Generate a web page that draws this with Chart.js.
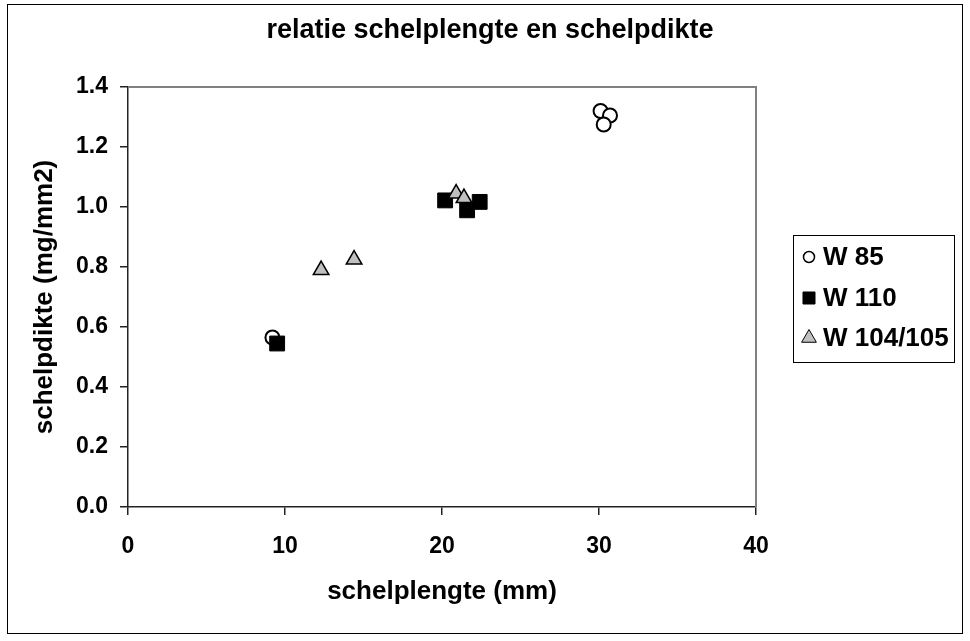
<!DOCTYPE html>
<html>
<head>
<meta charset="utf-8">
<script src="https://cdn.jsdelivr.net/npm/chart.js@4.4.1/dist/chart.umd.min.js"></script>
<style>
  html, body { margin: 0; padding: 0; background: #fff; }
  #wrap { width: 970px; height: 641px; position: relative; }
</style>
</head>
<body>
<div id="wrap"><canvas id="c" width="970" height="641"></canvas></div>
<script>
// Shell length (mm) vs. shell thickness (mg/mm2) per sampling station
const chartTitle = 'relatie schelplengte en schelpdikte';
const seriesNames = ['W 85', 'W 110', 'W 104/105'];

const w85Length    = [9.2, 30.1, 30.7, 30.3];
const w85Thickness = [0.565, 1.32, 1.305, 1.275];

const w110Length    = [9.5, 20.2, 21.6, 22.4];
const w110Thickness = [0.545, 1.022, 0.989, 1.017];

const w104Length    = [12.3, 14.4, 20.9, 21.4];
const w104Thickness = [0.79, 0.825, 1.045, 1.03];

const xTicks = [0, 10, 20, 30, 40];
const yTicks = [0.0, 0.2, 0.4, 0.6, 0.8, 1.0, 1.2, 1.4];

const FONT = "'Liberation Sans', Arial, sans-serif";

function pts(xs, ys) { return xs.map((x, i) => ({ x: x, y: ys[i] })); }

// White page, outer border, chart title, and grey frame round the plot area
const framePlugin = {
  id: 'frames',
  beforeDraw(chart) {
    const ctx = chart.ctx;
    ctx.save();
    ctx.fillStyle = '#fff';
    ctx.fillRect(0, 0, chart.width, chart.height);
    ctx.strokeStyle = '#000';
    ctx.lineWidth = 1;
    ctx.strokeRect(7.5, 4.5, 955, 629);
    ctx.fillStyle = '#000';
    ctx.font = 'bold 27px ' + FONT;
    ctx.textAlign = 'center';
    ctx.textBaseline = 'middle';
    ctx.fillText(chartTitle, 490, 31);
    ctx.restore();
  },
  afterDatasetsDraw(chart) {
    const a = chart.chartArea, ctx = chart.ctx;
    ctx.save();
    ctx.strokeStyle = '#808080';
    ctx.lineWidth = 2;
    ctx.beginPath();
    ctx.moveTo(a.left, a.top);
    ctx.lineTo(a.right, a.top);
    ctx.lineTo(a.right, a.bottom);
    ctx.stroke();
    ctx.restore();
  }
};

// Boxed legend to the right of the plot
const legendBoxPlugin = {
  id: 'legendBox',
  afterDraw(chart) {
    const ctx = chart.ctx;
    const box = { x: 793, y: 235, w: 161, h: 127 };
    ctx.save();
    ctx.fillStyle = '#fff';
    ctx.fillRect(box.x, box.y, box.w, box.h);
    ctx.strokeStyle = '#000';
    ctx.lineWidth = 1;
    ctx.strokeRect(box.x + 0.5, box.y + 0.5, box.w, box.h);
    const rowY = [257, 298, 338];
    const sizes = [5.5, 8.5, 8.5];
    chart.data.datasets.forEach((ds, i) => {
      const y = rowY[i];
      ctx.fillStyle = ds.backgroundColor;
      ctx.strokeStyle = ds.borderColor;
      ctx.lineWidth = ds.pointStyle === 'circle' ? 1.5 : 1;
      Chart.helpers.drawPoint(ctx, {
        pointStyle: ds.pointStyle,
        radius: sizes[i],
        borderWidth: ctx.lineWidth
      }, 809, y);
      ctx.fillStyle = '#000';
      ctx.font = 'bold 26px ' + FONT;
      ctx.textAlign = 'left';
      ctx.textBaseline = 'middle';
      ctx.fillText(ds.label, 823, y + 1);
    });
    ctx.restore();
  }
};

new Chart(document.getElementById('c'), {
  type: 'scatter',
  data: {
    datasets: [
      {
        label: seriesNames[0],
        data: pts(w85Length, w85Thickness),
        pointStyle: 'circle',
        pointRadius: 7,
        backgroundColor: '#ffffff',
        borderColor: '#000000',
        borderWidth: 2,
        order: 3
      },
      {
        label: seriesNames[1],
        data: pts(w110Length, w110Thickness),
        pointStyle: 'rect',
        pointRadius: 10.5,
        backgroundColor: '#000000',
        borderColor: '#000000',
        borderWidth: 1,
        order: 2
      },
      {
        label: seriesNames[2],
        data: pts(w104Length, w104Thickness),
        pointStyle: 'triangle',
        pointRadius: 9,
        backgroundColor: '#c0c0c0',
        borderColor: '#000000',
        borderWidth: 1.5,
        order: 1
      }
    ]
  },
  options: {
    responsive: false,
    devicePixelRatio: 1,
    animation: false,
    events: [],
    layout: { padding: { left: 0, right: 214, top: 87, bottom: 0 } },
    plugins: {
      legend: { display: false },
      tooltip: { enabled: false },
      title: { display: false }
    },
    scales: {
      x: {
        type: 'linear',
        min: 0,
        max: 40,
        afterFit(s) { s.height = 134; },
        afterBuildTicks(s) { s.ticks = xTicks.map(v => ({ value: v })); },
        border: { display: true, color: '#222', width: 1.5 },
        grid: { display: true, drawOnChartArea: false, drawTicks: true, tickLength: 8, color: '#222', lineWidth: 1.5 },
        ticks: {
          color: '#000',
          padding: 18,
          maxRotation: 0,
          font: { family: FONT, size: 23, weight: 'bold' },
          callback: v => String(v)
        },
        title: {
          display: true,
          text: 'schelplengte (mm)',
          color: '#000',
          font: { family: FONT, size: 26, weight: 'bold', lineHeight: '30px' },
          padding: { top: 0, bottom: 34 }
        }
      },
      y: {
        type: 'linear',
        min: 0,
        max: 1.4,
        afterFit(s) { s.width = 128; },
        afterBuildTicks(s) { s.ticks = yTicks.map(v => ({ value: v })); },
        border: { display: true, color: '#222', width: 1.5 },
        grid: { display: true, drawOnChartArea: false, drawTicks: true, tickLength: 8, color: '#222', lineWidth: 1.5 },
        ticks: {
          color: '#000',
          padding: 12,
          font: { family: FONT, size: 23, weight: 'bold' },
          callback: v => Number(v).toFixed(1)
        },
        title: {
          display: true,
          text: 'schelpdikte (mg/mm2)',
          color: '#000',
          font: { family: FONT, size: 26, weight: 'bold', lineHeight: '30px' },
          padding: { top: 30, bottom: 0 }
        }
      }
    }
  },
  plugins: [framePlugin, legendBoxPlugin]
});
</script>
</body>
</html>
